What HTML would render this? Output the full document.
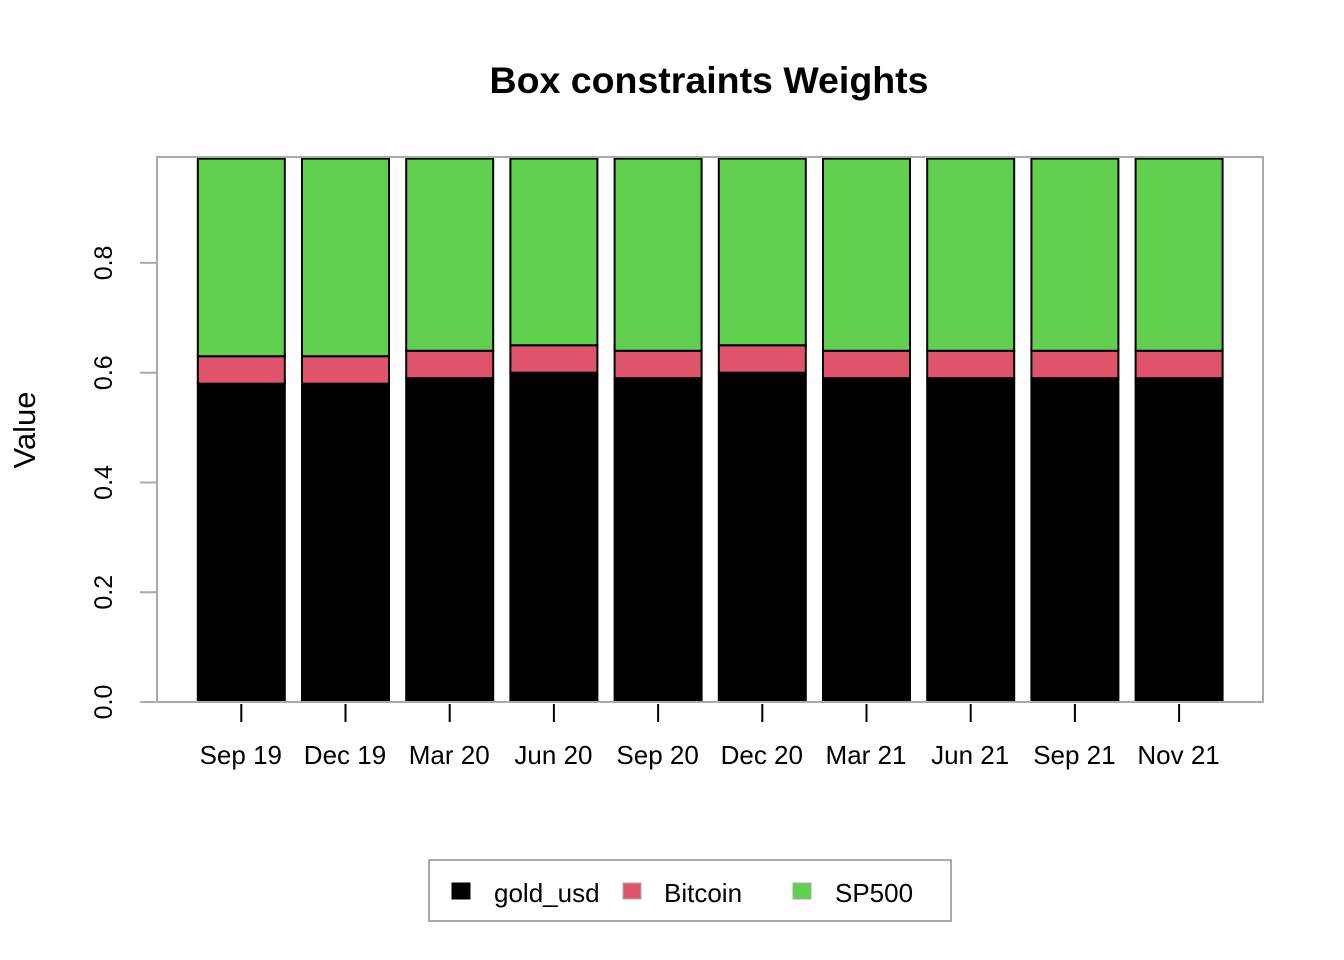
<!DOCTYPE html>
<html><head><meta charset="utf-8"><style>
html,body{margin:0;padding:0;background:#fff;}
svg{display:block;font-family:"Liberation Sans",Arial,sans-serif;}
</style></head><body>
<svg id="chart" width="1344" height="960">
<text x="709" y="93" text-anchor="middle" font-size="37.5" font-weight="bold">Box constraints Weights</text>
<text transform="translate(35,430) rotate(-90)" text-anchor="middle" font-size="31">Value</text>
<g id="bars"></g>
<g id="yaxis"></g>
<g id="xaxis"></g>
<rect x="157" y="157" width="1106" height="545" fill="none" stroke="#aaa" stroke-width="2"/>
<g>
<rect x="429" y="860" width="522" height="61" fill="#fff" stroke="#aaa" stroke-width="2"/>
<g><rect x="452" y="883" width="18" height="16" fill="#000" stroke="#000"/><text x="494" y="902" font-size="26">gold_usd</text></g>
<g><rect x="623" y="883" width="18" height="16" fill="#DF536B" stroke="#aaa"/><text x="664" y="902" font-size="26">Bitcoin</text></g>
<g><rect x="793" y="883" width="18" height="16" fill="#61D04F" stroke="#aaa"/><text x="835" y="902" font-size="26">SP500</text></g>
</g>
</svg>
<script>
const categories = ["Sep 19","Dec 19","Mar 20","Jun 20","Sep 20","Dec 20","Mar 21","Jun 21","Sep 21","Nov 21"];
const goldUsd = [0.58,0.58,0.59,0.60,0.59,0.60,0.59,0.59,0.59,0.59];
const bitcoin = [0.05,0.05,0.05,0.05,0.05,0.05,0.05,0.05,0.05,0.05];
const sp500 = [0.36,0.36,0.35,0.34,0.35,0.34,0.35,0.35,0.35,0.35];
const yTicks = [0,0.2,0.4,0.6,0.8];
const yTickLabels = ["0.0","0.2","0.4","0.6","0.8"];
const NS="http://www.w3.org/2000/svg";
const yMax=0.993, y0=702, yTop=157;
function y(v){return y0-(v/yMax)*(y0-yTop);}
function xc(i){return 241.3+i*104.2;}
const bw=87;
const series=[{d:goldUsd,c:"#000000",n:"gold-usd"},{d:bitcoin,c:"#DF536B",n:"bitcoin"},{d:sp500,c:"#61D04F",n:"sp500"}];
const gb=document.getElementById("bars");
categories.forEach((cat,i)=>{
  let base=0;
  series.forEach(s=>{
    const v=s.d[i];
    const r=document.createElementNS(NS,"rect");
    r.setAttribute("x",xc(i)-bw/2);
    r.setAttribute("y",y(base+v));
    r.setAttribute("width",bw);
    r.setAttribute("height",y(base)-y(base+v));
    r.setAttribute("fill",s.c);
    r.setAttribute("stroke","#000");
    r.setAttribute("stroke-width","2");
    
    
    gb.appendChild(r);
    base+=v;
  });
});
const gy=document.getElementById("yaxis");
yTicks.forEach((t,i)=>{
  const l=document.createElementNS(NS,"line");
  l.setAttribute("x1",140);l.setAttribute("x2",157);
  l.setAttribute("y1",y(t));l.setAttribute("y2",y(t));
  l.setAttribute("stroke","#aaa");l.setAttribute("stroke-width","2");
  
  
  gy.appendChild(l);
  const tx=document.createElementNS(NS,"text");
  tx.setAttribute("transform","translate(112,"+y(t)+") rotate(-90)");
  tx.setAttribute("text-anchor","middle");
  tx.setAttribute("font-size","25");
  tx.textContent=yTickLabels[i];
  
  
  gy.appendChild(tx);
});
const gx=document.getElementById("xaxis");
categories.forEach((c,i)=>{
  const l=document.createElementNS(NS,"line");
  l.setAttribute("x1",xc(i));l.setAttribute("x2",xc(i));
  l.setAttribute("y1",704);l.setAttribute("y2",722);
  l.setAttribute("stroke","#000");l.setAttribute("stroke-width","2");
  
  
  gx.appendChild(l);
  const tx=document.createElementNS(NS,"text");
  tx.setAttribute("x",xc(i)-0.5);tx.setAttribute("y",764);
  tx.setAttribute("text-anchor","middle");tx.setAttribute("font-size","26");
  tx.textContent=c;
  
  
  gx.appendChild(tx);
});
</script>
</body></html>
